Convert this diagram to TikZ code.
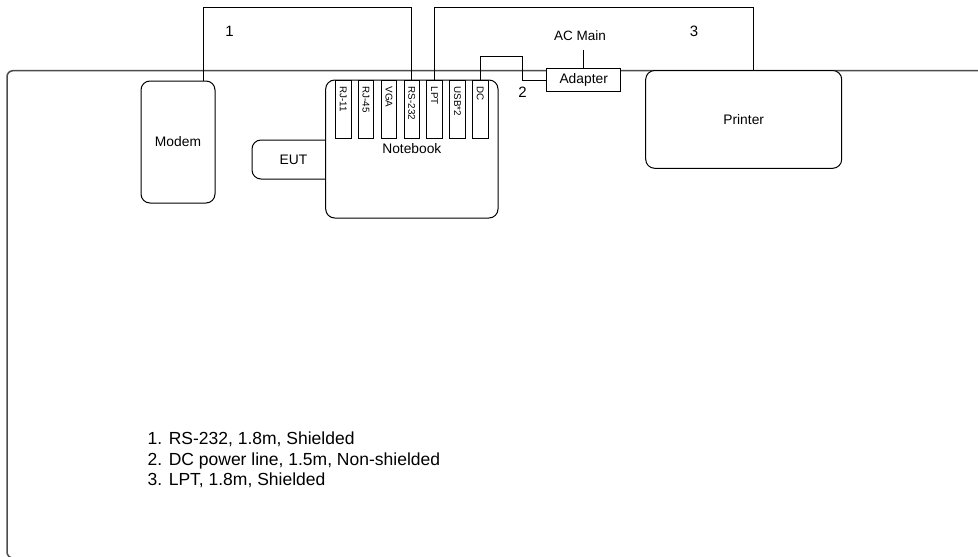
\documentclass[tikz,border=0pt]{standalone}
\usepackage{fontspec}
\setmainfont{Liberation Sans}
\begin{document}
\begin{tikzpicture}[x=1pt,y=-1pt,
  box/.style={draw=black, line width=1pt, fill=white, rounded corners=9pt, inner sep=0pt, font=\fontsize{13.8}{16}\selectfont},
  port/.style={draw=black, line width=0.9pt, fill=white, minimum width=15.5pt, minimum height=58pt, inner sep=0pt},
  porttext/.style={rotate=-90, anchor=west, font=\fontsize{9.8}{10}\selectfont, inner sep=0pt},
  cable/.style={draw=black, line width=0.9pt},
  lbl/.style={font=\fontsize{13.5}{16}\selectfont, inner sep=0pt},
  num/.style={font=\fontsize{15}{17}\selectfont, inner sep=0pt},
  frame/.style={draw=black!70, line width=1.5pt, rounded corners=6pt}]
\useasboundingbox (0,0) rectangle (978,557);
\begin{scope}
  \clip (0,0) rectangle (978,557);
  \draw[frame] (7,70.7) rectangle (1000,558);
\end{scope}
% devices
\node[box, minimum width=74pt, minimum height=122pt] (modem) at (178,142) {Modem};
\node[box, minimum width=83pt, minimum height=39pt] (eut) at (293.5,159.5) {EUT};
\node[box, minimum width=172.3pt, minimum height=138pt] (nb) at (411.85,149) {Notebook};
\foreach \n/\t [count=\i from 0] in {rj11/RJ-11, rj45/RJ-45, vga/VGA, rs/RS-232, lpt/LPT, usb/USB*2, dc/DC} {
  \node[port] (\n) at (343.2+22.85*\i, 109) {};
  \node[porttext] (\n t) at ([yshift=-7pt]\n.north) {\t};
}
\node[box, minimum width=196pt, minimum height=97.8pt] (printer) at (743.7,119.4) {Printer};
\node[box, rounded corners=0pt, minimum width=74pt, minimum height=23.4pt] (adapter) at (583.7,80) {Adapter};
% cables
\coordinate (k1) at (203,7);
\draw[cable] (k1 |- modem.north) -- (k1) -| (rs.north);
\coordinate (k3) at (753.3,7);
\draw[cable] (lpt.north) |- (k3) -- (k3 |- printer.north);
\coordinate (k2) at (522.7,56.7);
\draw[cable] (dc.north) |- (k2) |- (adapter.west);
\coordinate (ac) at (583.7,50);
\draw[cable] (adapter.north) -- (ac);
% labels
\node[lbl] (acm) at (580,36) {AC Main};
\node[num] (n1) at (229.5,31) {1};
\node[num] (n2) at (522.5,92) {2};
\node[num] (n3) at (694,31) {3};
\node[anchor=north west, align=left, inner sep=0pt, font=\fontsize{17.5}{20.5}\selectfont] (legend) at (147.5,432)
  {1. RS-232, 1.8m, Shielded\\2. DC power line, 1.5m, Non-shielded\\3. LPT, 1.8m, Shielded};
\end{tikzpicture}
\end{document}
